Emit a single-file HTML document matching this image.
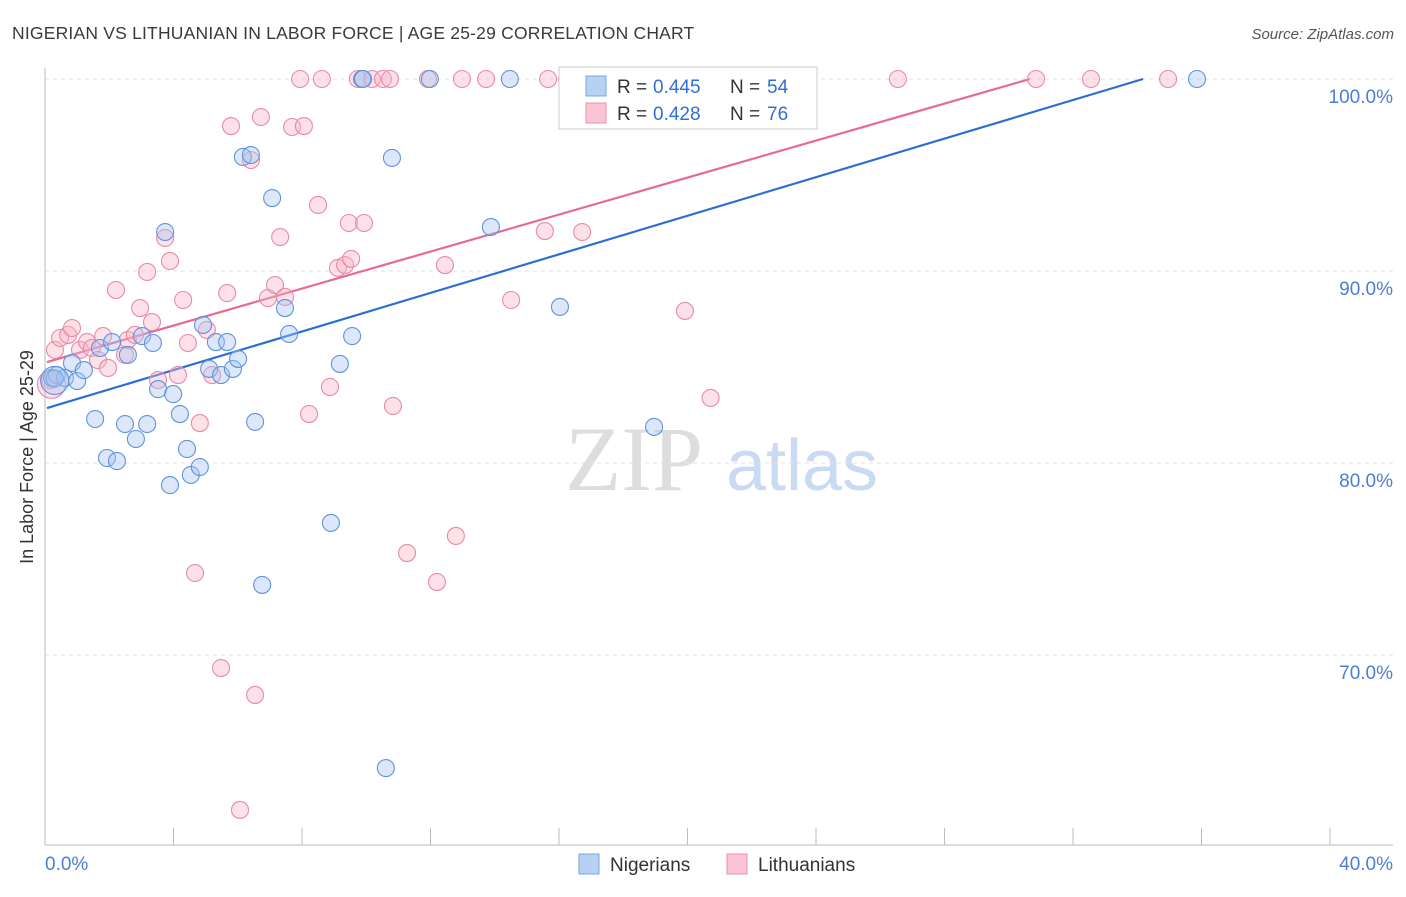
<!DOCTYPE html>
<html><head><meta charset="utf-8"><style>
body{margin:0;background:#fff;font-family:"Liberation Sans",sans-serif}
</style></head><body>
<svg width="1406" height="892" xmlns="http://www.w3.org/2000/svg" id="chart">
<text x="12" y="39" font-size="17.5" fill="#3a3a3a" letter-spacing="0.2">NIGERIAN VS LITHUANIAN IN LABOR FORCE | AGE 25-29 CORRELATION CHART</text>
<text x="1394" y="39" font-size="15" fill="#555" text-anchor="end" font-style="italic">Source: ZipAtlas.com</text>
<text x="33" y="457" font-size="18" fill="#333" text-anchor="middle" transform="rotate(-90 33 457)">In Labor Force | Age 25-29</text>
<g><text x="634" y="490" font-size="92" fill="#ddd" text-anchor="middle" font-family="Liberation Serif">ZIP</text><text x="802" y="490" font-size="72" fill="#c9daf2" text-anchor="middle">atlas</text></g>
<g id="grid"></g><g id="axes"></g><g id="lines"></g><g id="pts"></g>
<g>
<rect x="559" y="67" width="258" height="62" fill="#fff" stroke="#ccc"/>
<rect x="586" y="76" width="20" height="20" fill="#b7d1f3" stroke="#7aa6e0"/>
<text x="617" y="93" font-size="19" fill="#333">R =</text><text x="653" y="93" font-size="19" fill="#2f6fd6">0.445</text>
<text x="730" y="93" font-size="19" fill="#333">N =</text><text x="767" y="93" font-size="19" fill="#2f6fd6">54</text>
<rect x="586" y="103" width="20" height="20" fill="#f9c4d3" stroke="#e98fab"/>
<text x="617" y="120" font-size="19" fill="#333">R =</text><text x="653" y="120" font-size="19" fill="#2f6fd6">0.428</text>
<text x="730" y="120" font-size="19" fill="#333">N =</text><text x="767" y="120" font-size="19" fill="#2f6fd6">76</text>
</g>
<g>
<rect x="579" y="854" width="20" height="20" fill="#b7d1f3" stroke="#7aa6e0"/>
<text x="610" y="871" font-size="19" fill="#333">Nigerians</text>
<rect x="727" y="854" width="20" height="20" fill="#f9c4d3" stroke="#e98fab"/>
<text x="758" y="871" font-size="19" fill="#333">Lithuanians</text>
</g>
</svg>
<script>
const yTicks=[100,90,80,70];
const yTickLabels=["100.0%","90.0%","80.0%","70.0%"];
const xTicks=[0,4,8,12,16,20,24,28,32,36,40];
const blueX=[0.22,0.37,0.62,0.84,1.00,1.21,1.56,1.71,1.93,2.09,2.24,2.49,2.58,2.83,3.02,3.18,3.36,3.52,3.74,3.89,3.99,4.20,4.42,4.54,4.82,4.92,5.11,5.32,5.48,5.67,5.85,6.01,6.16,6.41,6.54,6.76,7.07,7.47,7.60,8.90,9.18,9.56,9.87,10.61,10.80,11.98,13.88,14.47,16.03,18.96,35.86,0.3,9.9,0.3];
const blueY=[84.43,84.58,84.43,85.21,84.27,84.84,82.29,85.99,80.26,86.30,80.10,82.03,85.63,81.25,86.61,82.03,86.25,83.85,92.03,78.85,83.59,82.55,80.73,79.38,79.79,87.19,84.90,86.30,84.58,86.30,84.90,85.42,95.94,96.04,82.14,73.65,93.80,88.07,86.72,76.88,85.16,86.61,100,64.11,95.89,100,92.29,100,88.13,81.88,100,84.4,100,84.3];
const pinkX=[0.16,0.31,0.47,0.72,0.84,1.09,1.31,1.46,1.65,1.81,1.96,2.21,2.49,2.58,2.80,2.96,3.18,3.33,3.52,3.74,3.89,4.14,4.30,4.45,4.67,4.82,5.04,5.20,5.48,5.67,5.79,6.07,6.41,6.54,6.72,6.94,7.16,7.32,7.47,7.69,7.94,8.06,8.22,8.50,8.62,8.87,9.12,9.34,9.46,9.53,9.74,9.93,10.18,10.52,10.74,10.83,11.27,11.92,12.20,12.45,12.79,12.98,13.73,14.51,15.56,15.66,16.25,16.72,19.92,20.72,22.63,26.55,30.85,32.56,34.96,0.2];
const pinkY=[84.32,85.89,86.51,86.67,87.03,85.89,86.30,85.99,85.36,86.61,84.95,89.01,85.63,86.41,86.67,88.07,89.95,87.34,84.32,91.72,90.52,84.58,88.49,86.25,74.27,82.08,86.93,84.58,69.32,88.85,97.55,61.93,95.78,67.92,98.02,88.59,89.27,91.77,88.65,97.50,100,97.55,82.55,93.44,100,83.96,90.16,90.31,92.50,90.63,100,92.50,100,100,100,82.97,75.31,100,73.80,90.31,76.20,100,100,88.49,92.08,100,100,92.03,87.92,83.39,100,100,100,100,100,84.1];
const blueTrend=[0.06,82.86,34.18,100];
const pinkTrend=[0.06,85.26,30.66,100];
const X=v=>45+v*32.125, Y=v=>79+(100-v)*19.2;
const NS="http://www.w3.org/2000/svg";
function mk(p,t,a){const e=document.createElementNS(NS,t);for(const k in a)e.setAttribute(k,a[k]);document.getElementById(p).appendChild(e);return e;}
yTicks.forEach((t,i)=>{
 let l=mk('grid','line',{x1:45,x2:1393,y1:Y(t),y2:Y(t),stroke:'#e2e2e2','stroke-dasharray':'4,4'});
 
 
 let tx=mk('axes','text',{x:1393,y:Y(t)+24,'font-size':19,fill:'#4a7fd4','text-anchor':'end'});
 tx.textContent=yTickLabels[i];
 
 
});
let ax=mk('axes','line',{x1:45,x2:45,y1:68,y2:845,stroke:'#bbb'});


let bx=mk('axes','line',{x1:45,x2:1393,y1:845,y2:845,stroke:'#bbb'});


xTicks.forEach(t=>{
 let l=mk('axes','line',{x1:X(t),x2:X(t),y1:828,y2:845,stroke:'#bbb'});
 
 
});
[[0,'0.0%','start'],[40,'40.0%','end']].forEach(([v,s,a])=>{
 let tx=mk('axes','text',{x:v==0?45:1393,y:870,'font-size':19,fill:'#4a7fd4','text-anchor':a});
 tx.textContent=s;
 
 
});
function pts(xs,ys,fill,stroke,name){xs.forEach((x,i)=>{
 const big=(i===xs.length-1)&&ys[i]<90;
 let c=mk('pts','circle',{cx:X(x),cy:Y(ys[i]),r:big?14:8.5,fill:fill,'fill-opacity':0.4,stroke:stroke,'stroke-width':1.1});
 
 
});}
pts(pinkX,pinkY,'#f7b3c7','#e98aa7','lithuanian-point');
pts(blueX,blueY,'#a8c6f0','#5f93dc','nigerian-point');
let bl=mk('lines','line',{x1:X(blueTrend[0]),y1:Y(blueTrend[1]),x2:X(blueTrend[2]),y2:Y(blueTrend[3]),stroke:'#2b6fd6','stroke-width':2.2});


let pl=mk('lines','line',{x1:X(pinkTrend[0]),y1:Y(pinkTrend[1]),x2:X(pinkTrend[2]),y2:Y(pinkTrend[3]),stroke:'#e56b93','stroke-width':2.2});


</script>
</body></html>
